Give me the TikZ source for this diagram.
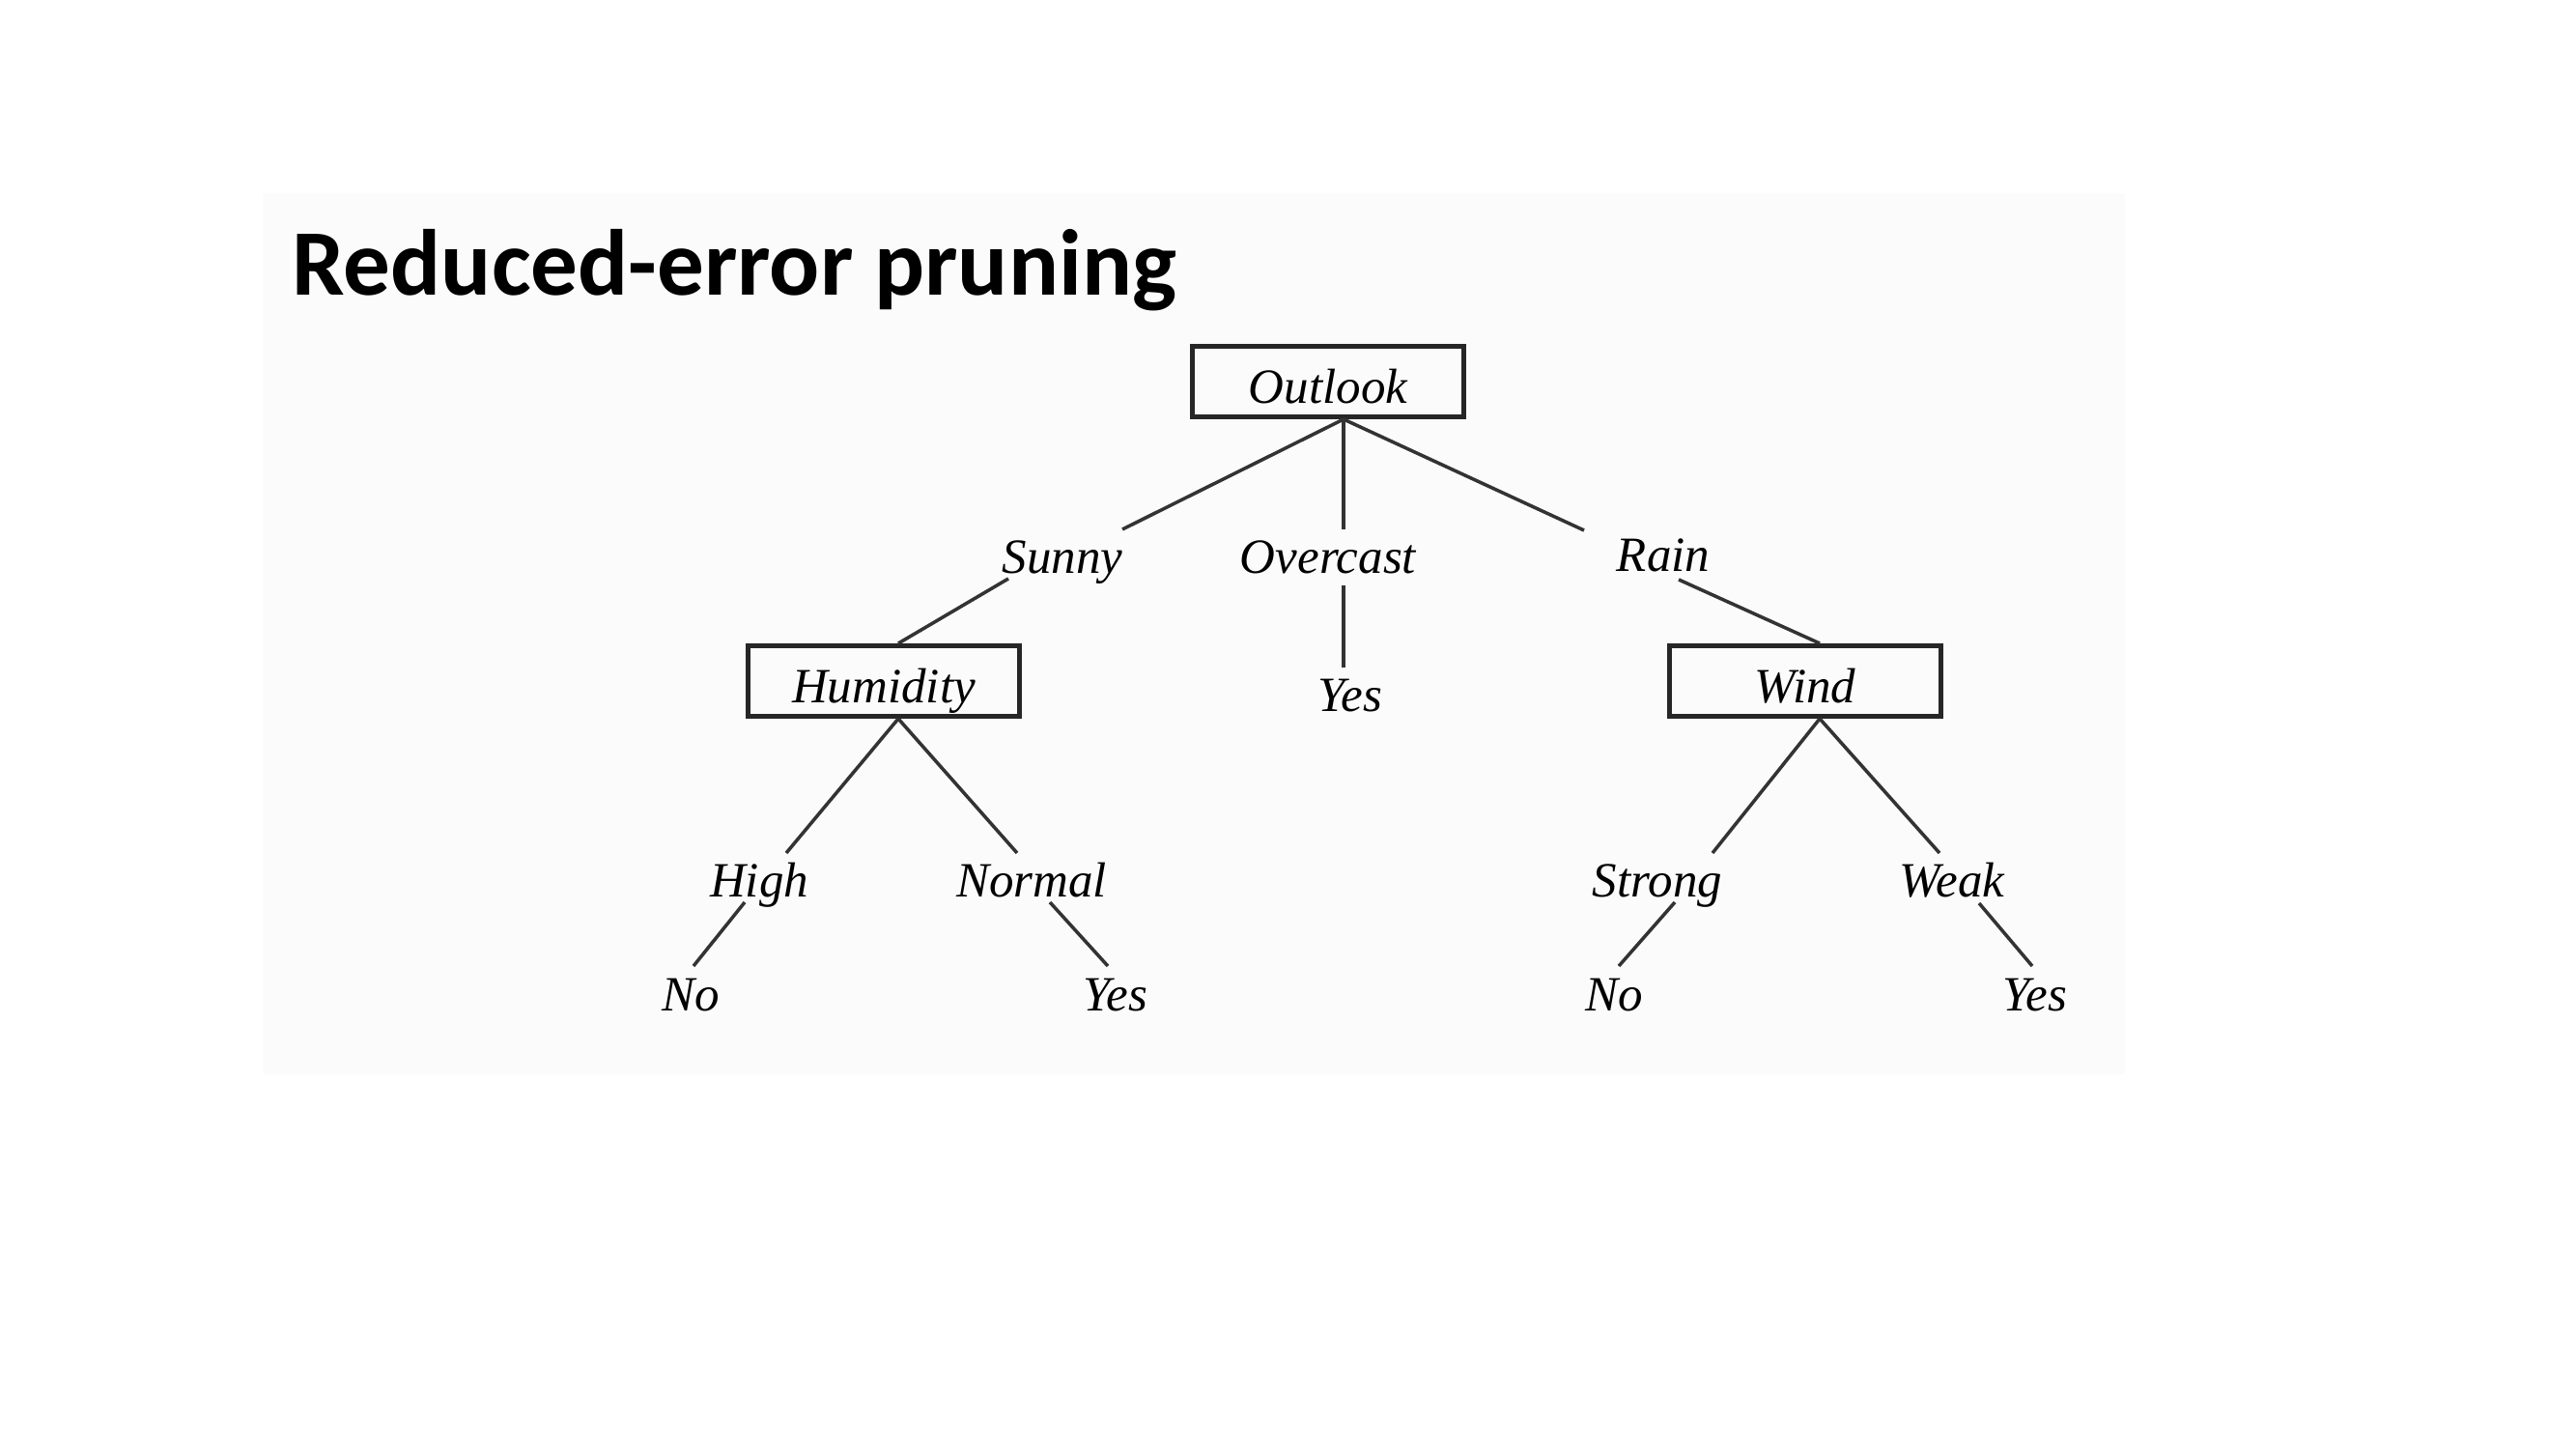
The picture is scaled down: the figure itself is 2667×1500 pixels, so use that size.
\documentclass[tikz,border=0pt]{standalone}
\usepackage{fontspec}
\setmainfont{Liberation Serif}
\newfontfamily\titlefont{Carlito}
\definecolor{bgtint}{RGB}{251,251,251}
\begin{document}
\begin{tikzpicture}[x=0.01cm,y=-0.01cm,
  lbl/.style={font=\fontsize{14.5}{17}\selectfont\itshape, inner xsep=0pt, inner ysep=3.24pt, text height=9.45pt, text depth=0pt},
  box/.style={draw=black!85, line width=1.4pt, minimum width=2.81cm, minimum height=0.73cm, inner sep=0pt, text height=13pt, text depth=0pt, font=\fontsize{14.5}{17}\selectfont\itshape},
  conn/.style={draw=black!80, line width=1pt}]
\useasboundingbox (0,0) rectangle (2667,1500);
\fill[white] (0,0) rectangle (2667,1500);
\fill[bgtint] (272,200) rectangle (2200,1112);

\node[anchor=base west, inner sep=0pt, font=\titlefont\bfseries\fontsize{27.6}{32}\selectfont] (title) at (302,305) {Reduced-error pruning};

% decision nodes
\node[box] (outlook) at (1375,395) {Outlook};
\node[box] (humidity) at (915,705) {Humidity};
\node[box] (wind) at (1869,705) {Wind};

\coordinate (oa) at ([xshift=0.16cm]outlook.south);
\coordinate (hat) at ([xshift=0.15cm]humidity.north);
\coordinate (hab) at ([xshift=0.15cm]humidity.south);
\coordinate (wat) at ([xshift=0.15cm]wind.north);
\coordinate (wab) at ([xshift=0.15cm]wind.south);

% branch labels and leaves
\node[lbl] (sunny) at (1100,577) {Sunny};
\node[lbl] (overcast) at (1375,577) {Overcast};
\node[lbl] (rain) at (1722,575) {Rain};
\node[lbl] (yes0) at (1398,720) {Yes};
\node[lbl] (high) at (786,912) {High};
\node[lbl] (normal) at (1068,912) {Normal};
\node[lbl] (strong) at (1716,912) {Strong};
\node[lbl] (weak) at (2021,912) {Weak};
\node[lbl] (no1) at (715,1030) {No};
\node[lbl] (yes1) at (1155,1030) {Yes};
\node[lbl] (no2) at (1671,1030) {No};
\node[lbl] (yes2) at (2107,1030) {Yes};

% connectors
\draw[conn] (oa) -- ([shift={(62,-29)}]sunny.center);
\draw[conn] (oa) -- (oa |- overcast.north);
\draw[conn] (oa) -- ([shift={(-82,-26)}]rain.center);
\draw[conn] (oa |- overcast.south) -- (oa |- yes0.north);
\draw[conn] ([shift={(-56,22)}]sunny.center) -- (hat);
\draw[conn] ([shift={(16,25)}]rain.center) -- (wat);
\draw[conn] (hab) -- ([shift={(28,-29)}]high.center);
\draw[conn] (hab) -- ([shift={(-15,-29)}]normal.center);
\draw[conn] ([shift={(-15,22)}]high.center) -- ([shift={(3,-30)}]no1.center);
\draw[conn] ([shift={(19,22)}]normal.center) -- ([shift={(-8,-30)}]yes1.center);
\draw[conn] (wab) -- ([shift={(57,-29)}]strong.center);
\draw[conn] (wab) -- ([shift={(-13,-29)}]weak.center);
\draw[conn] ([shift={(18,22)}]strong.center) -- ([shift={(5,-30)}]no2.center);
\draw[conn] ([shift={(28,23)}]weak.center) -- ([shift={(-3,-30)}]yes2.center);
\end{tikzpicture}
\end{document}
